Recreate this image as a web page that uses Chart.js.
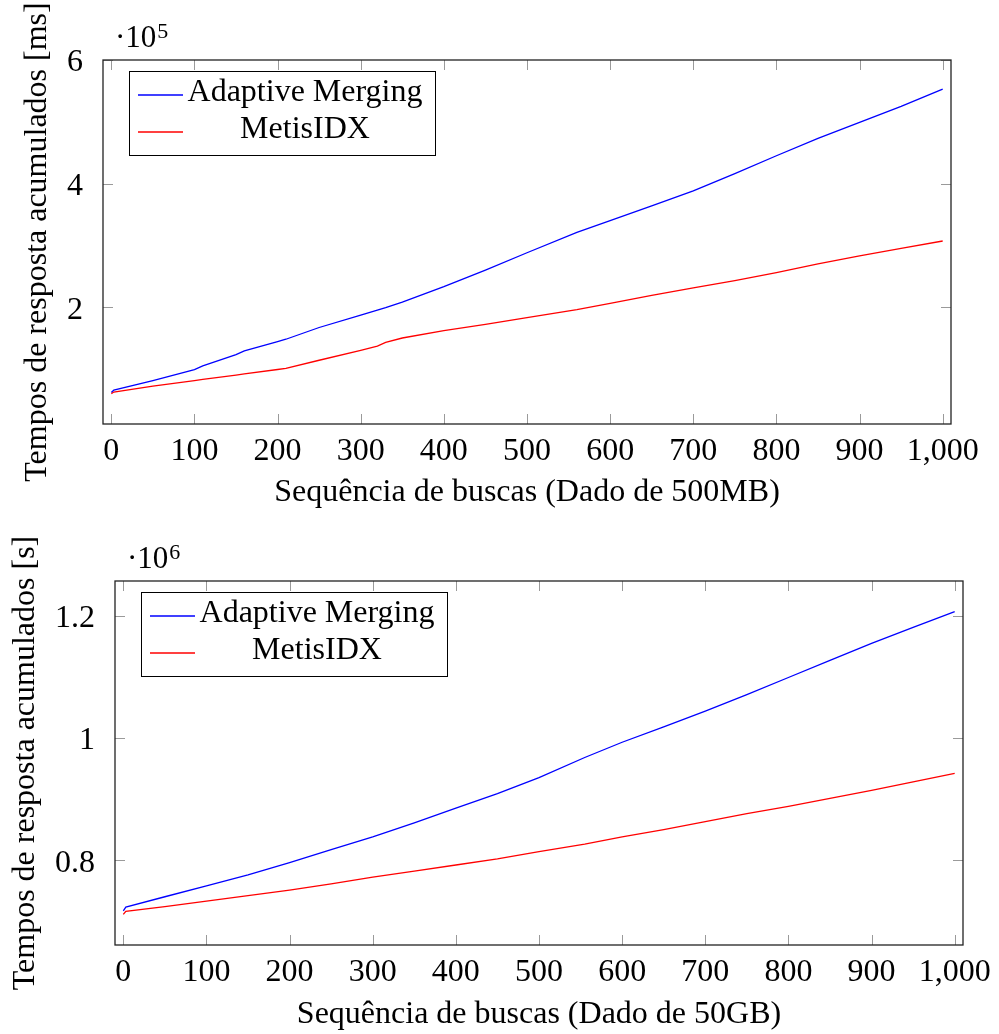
<!DOCTYPE html>
<html>
<head>
<meta charset="utf-8">
<script src="https://cdn.jsdelivr.net/npm/chart.js@4"></script>
<style>
  html, body { margin: 0; padding: 0; background: #fff; }
  #wrap { position: relative; width: 999px; height: 1034px; }
  canvas { position: absolute; left: 0; }
  #chart500 { top: 0; }
  #chart50 { top: 517px; }
</style>
</head>
<body>
<div id="wrap">
  <canvas id="chart500" width="999" height="517"></canvas>
  <canvas id="chart50" width="999" height="517"></canvas>
</div>
<script>
// nomes das séries
const seriesNames = ["Adaptive Merging", "MetisIDX"];

// 500MB: tempos acumulados (x10^5 ms)
const buscas500 = [0, 3, 50, 100, 110, 150, 160, 200, 210, 250, 300, 320, 330, 350, 400, 450, 500, 560, 600, 650, 700, 750, 800, 850, 900, 950, 1000];
const adaptive500 = [0.62, 0.655, 0.81, 0.99, 1.05, 1.23, 1.29, 1.44, 1.48, 1.67, 1.87, 1.95, 1.99, 2.08, 2.33, 2.60, 2.88, 3.21, 3.40, 3.64, 3.88, 4.16, 4.45, 4.73, 4.99, 5.25, 5.53];
const metis500 = [0.60, 0.625, 0.72, 0.81, 0.83, 0.90, 0.92, 0.99, 1.01, 1.14, 1.30, 1.37, 1.43, 1.50, 1.62, 1.72, 1.83, 1.96, 2.06, 2.19, 2.31, 2.43, 2.56, 2.70, 2.83, 2.95, 3.07];

// 50GB: tempos acumulados (x10^6 s)
const buscas50 = [0, 3, 50, 100, 150, 200, 250, 300, 350, 400, 450, 500, 555, 600, 650, 700, 750, 800, 850, 900, 950, 1000];
const adaptive50 = [0.717, 0.723, 0.740, 0.758, 0.776, 0.796, 0.817, 0.838, 0.861, 0.885, 0.909, 0.935, 0.968, 0.993, 1.018, 1.044, 1.071, 1.099, 1.127, 1.155, 1.181, 1.207];
const metis50 = [0.711, 0.716, 0.724, 0.733, 0.742, 0.751, 0.761, 0.772, 0.782, 0.792, 0.802, 0.814, 0.826, 0.838, 0.850, 0.863, 0.876, 0.888, 0.901, 0.914, 0.928, 0.942];

// ticks dos eixos
const xTicks = [0, 100, 200, 300, 400, 500, 600, 700, 800, 900, 1000];
const yTicks500 = [2, 4, 6];
const yTicks50 = [0.8, 1, 1.2];

const serif = '"Liberation Serif", "Times New Roman", serif';
const colors = ["rgb(0, 0, 255)", "rgb(255, 0, 0)"];

// moldura com ticks para dentro nos quatro lados
const framePlugin = {
  id: "frame",
  afterDatasetsDraw(chart) {
    const { ctx, chartArea: a, scales } = chart;
    ctx.save();
    ctx.strokeStyle = "#9a9a9a";
    ctx.lineWidth = 1;
    ctx.beginPath();
    scales.x.ticks.forEach(t => {
      const px = Math.round(scales.x.getPixelForValue(t.value)) + 0.5;
      ctx.moveTo(px, a.bottom); ctx.lineTo(px, a.bottom - 10);
      ctx.moveTo(px, a.top); ctx.lineTo(px, a.top + 10);
    });
    scales.y.ticks.forEach(t => {
      const py = Math.round(scales.y.getPixelForValue(t.value)) + 0.5;
      ctx.moveTo(a.left, py); ctx.lineTo(a.left + 10, py);
      ctx.moveTo(a.right, py); ctx.lineTo(a.right - 10, py);
    });
    ctx.stroke();
    ctx.strokeStyle = "#222";
    ctx.lineWidth = 1.3;
    ctx.strokeRect(a.left, a.top, a.width, a.height);
    ctx.restore();
  }
};

// legenda em caixa no canto superior esquerdo
const boxLegend = {
  id: "boxLegend",
  afterDraw(chart) {
    const { ctx, chartArea: a } = chart;
    const bx = Math.round(a.left + 26), by = Math.round(a.top + 11), bw = 306, bh = 84;
    ctx.save();
    ctx.fillStyle = "#fff";
    ctx.fillRect(bx, by, bw, bh);
    ctx.strokeStyle = "#000";
    ctx.lineWidth = 1;
    ctx.strokeRect(bx + 0.5, by + 0.5, bw, bh);
    ctx.font = "32px " + serif;
    ctx.textAlign = "center";
    ctx.textBaseline = "middle";
    chart.data.datasets.forEach((ds, i) => {
      const ly = by + 24 + i * 37;
      ctx.strokeStyle = ds.borderColor;
      ctx.lineWidth = 1.3;
      ctx.beginPath();
      ctx.moveTo(bx + 9, ly);
      ctx.lineTo(bx + 54, ly);
      ctx.stroke();
      ctx.fillStyle = "#000";
      ctx.fillText(ds.label, bx + 176, ly - 2);
    });
    ctx.restore();
  }
};

// fator de escala acima do eixo y
const exponentLabel = {
  id: "exponentLabel",
  afterDraw(chart, args, opts) {
    const { ctx, chartArea: a } = chart;
    const x = a.left + 12, y = a.top - 13;
    ctx.save();
    ctx.fillStyle = "#000";
    ctx.textAlign = "left";
    ctx.textBaseline = "alphabetic";
    ctx.font = "31px " + serif;
    ctx.fillText("\u00b710", x, y);
    const w = ctx.measureText("\u00b710").width;
    ctx.font = "22px " + serif;
    ctx.fillText(opts.exp, x + w + 1, y - 9);
    ctx.restore();
  }
};

function makeChart(id, cfg) {
  const tickFont = { family: serif, size: 32 };
  const titleFont = { family: serif, size: 32 };
  return new Chart(document.getElementById(id), {
    type: "line",
    data: {
      datasets: cfg.series.map((vals, i) => ({
        label: seriesNames[i],
        data: cfg.xs.map((x, j) => ({ x: x, y: vals[j] })),
        borderColor: colors[i],
        borderWidth: 1.3,
        pointRadius: 0,
        tension: 0,
        fill: false
      }))
    },
    options: {
      responsive: false,
      animation: false,
      layout: { padding: cfg.pad },
      plugins: {
        legend: { display: false },
        tooltip: { enabled: false },
        exponentLabel: { exp: cfg.exp }
      },
      scales: {
        x: {
          type: "linear",
          min: -10,
          max: 1010,
          afterBuildTicks: s => { s.ticks = xTicks.map(v => ({ value: v })); },
          afterFit: s => { s.height = cfg.xHeight; },
          grid: { display: false },
          border: { display: false },
          ticks: {
            font: tickFont,
            color: "#000",
            padding: cfg.xLabelPad,
            maxRotation: 0,
            autoSkip: false,
            callback: v => Number(v).toLocaleString("en-US")
          },
          title: {
            display: true,
            text: cfg.xTitle,
            font: titleFont,
            color: "#000",
            padding: { top: 0, bottom: cfg.xTitlePad }
          }
        },
        y: {
          type: "linear",
          min: cfg.yMin,
          max: cfg.yMax,
          afterBuildTicks: s => { s.ticks = cfg.yTicks.map(v => ({ value: v })); },
          afterFit: s => { s.width = cfg.yWidth; },
          grid: { display: false },
          border: { display: false },
          ticks: {
            font: tickFont,
            color: "#000",
            padding: 12,
            labelOffset: 3,
            callback: v => String(v)
          },
          title: {
            display: true,
            text: cfg.yTitle,
            font: titleFont,
            color: "#000",
            padding: { top: cfg.yTitlePad, bottom: 0 }
          }
        }
      }
    },
    plugins: [framePlugin, boxLegend, exponentLabel]
  });
}

makeChart("chart500", {
  xs: buscas500,
  series: [adaptive500, metis500],
  yTicks: yTicks500,
  yMin: 0.108,
  yMax: 6,
  exp: "5",
  pad: { top: 60, right: 48, left: 0, bottom: 0 },
  yWidth: 103,
  xHeight: 93,
  xLabelPad: 0,
  xTitlePad: 5,
  yTitlePad: 18,
  xTitle: "Sequência de buscas (Dado de 500MB)",
  yTitle: "Tempos de resposta acumulados [ms]"
});

makeChart("chart50", {
  xs: buscas50,
  series: [adaptive50, metis50],
  yTicks: yTicks50,
  yMin: 0.661,
  yMax: 1.257,
  exp: "6",
  pad: { top: 64, right: 36, left: 0, bottom: 0 },
  yWidth: 115,
  xHeight: 89,
  xLabelPad: 0,
  xTitlePad: 0,
  yTitlePad: 6,
  xTitle: "Sequência de buscas (Dado de 50GB)",
  yTitle: "Tempos de resposta acumulados [s]"
});
</script>
</body>
</html>
